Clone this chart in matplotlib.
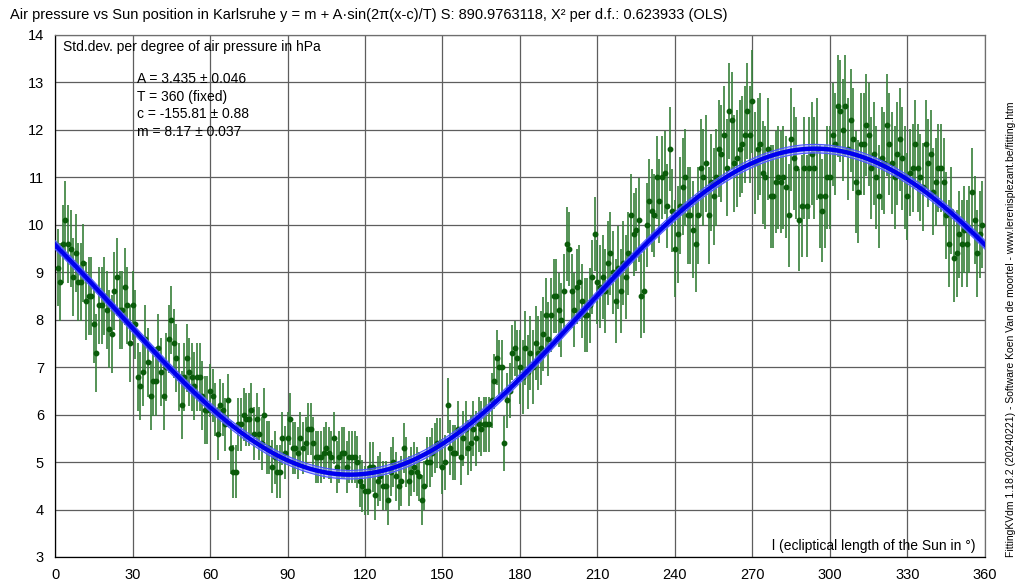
import numpy as np
import matplotlib
matplotlib.use("Agg")
from matplotlib import pyplot as plt

plt.rcParams['font.family'] = ['Liberation Sans', 'DejaVu Sans']

# degree of ecliptical length 0..359, std.dev. of air pressure (hPa)
deg = np.arange(360)
std_0_59 = [9.6, 9.1, 8.8, 9.6, 10.1, 9.6, 9.5, 8.9, 9.4, 8.8, 8.8, 9.2, 8.4, 8.5, 8.5,
            7.9, 7.3, 8.3, 8.3, 8.5, 8.2, 7.8, 7.7, 8.6, 8.9, 8.2, 8.2, 8.7, 8.3, 7.5,
            8.3, 7.9, 6.8, 6.6, 6.9, 7.6, 7.1, 6.4, 6.7, 6.7, 7.4, 6.9, 6.4, 7.0, 7.6,
            8.0, 7.5, 7.2, 6.8, 6.2, 6.8, 7.2, 6.9, 6.8, 6.6, 6.8, 6.8, 6.4, 6.1, 6.1]
std_60_119 = [6.5, 6.4, 6.1, 5.6, 6.2, 6.1, 5.8, 6.3, 5.3, 4.8, 4.8, 5.8, 5.8, 6.0, 5.9,
              5.9, 6.1, 5.6, 5.9, 5.6, 5.4, 6.0, 5.3, 5.3, 4.9, 5.1, 4.8, 4.8, 5.5, 5.2,
              5.5, 5.9, 5.3, 5.3, 5.2, 5.5, 5.3, 5.4, 5.7, 5.7, 5.4, 5.1, 5.1, 5.1, 5.2,
              5.3, 5.2, 5.1, 5.5, 4.9, 5.1, 5.2, 5.2, 4.9, 5.1, 5.1, 5.1, 5.0, 4.6, 4.5]
std_120_179 = [4.4, 4.4, 4.9, 4.9, 4.3, 4.6, 4.7, 4.5, 4.5, 4.2, 4.8, 5.0, 4.7, 4.5, 4.6,
               5.3, 5.0, 4.6, 4.8, 4.9, 4.8, 4.7, 4.2, 4.5, 5.0, 5.0, 5.2, 5.3, 5.4, 5.4,
               4.9, 5.0, 6.2, 5.3, 5.2, 5.2, 5.7, 5.1, 5.5, 5.7, 5.3, 5.4, 5.7, 5.5, 5.8,
               5.7, 5.8, 5.8, 5.8, 6.3, 6.7, 7.2, 7.0, 7.0, 5.4, 6.3, 6.5, 7.3, 7.4, 7.2]
std_180_239 = [7.0, 6.8, 7.4, 6.9, 7.3, 7.0, 7.5, 7.3, 7.4, 7.7, 8.1, 7.6, 8.1, 8.5, 8.5,
               8.2, 8.0, 8.6, 9.6, 9.5, 8.6, 8.2, 8.7, 8.8, 8.4, 8.1, 8.1, 8.3, 8.9, 9.8,
               8.8, 8.7, 8.9, 8.6, 9.2, 9.4, 9.0, 8.4, 9.1, 8.6, 9.2, 8.9, 9.4, 10.2, 9.8,
               9.9, 10.1, 8.5, 8.6, 10.0, 10.5, 10.3, 10.2, 11.0, 10.5, 11.0, 11.1, 10.4, 11.6, 10.3]
std_240_299 = [9.5, 9.8, 10.4, 10.8, 11.0, 10.2, 10.2, 9.9, 9.6, 10.2, 11.2, 11.0, 11.3, 10.2, 10.9,
               10.6, 11.0, 11.6, 11.5, 11.9, 11.2, 12.4, 12.2, 11.3, 11.4, 11.6, 11.7, 11.9, 12.4, 11.9,
               12.6, 11.3, 11.6, 11.7, 11.1, 11.0, 11.6, 10.6, 10.6, 10.9, 11.0, 10.9, 11.0, 10.8, 10.2,
               11.8, 11.4, 11.2, 10.1, 10.4, 11.2, 10.4, 11.2, 11.5, 11.2, 11.6, 10.6, 10.3, 10.6, 11.0]
std_300_359 = [11.0, 11.9, 11.7, 12.5, 12.4, 12.0, 12.5, 11.6, 12.2, 11.8, 10.9, 10.7, 11.7, 11.7, 12.1,
               11.9, 11.2, 11.5, 11.0, 10.6, 11.4, 11.3, 12.1, 11.7, 11.3, 11.0, 11.5, 11.8, 11.4, 11.0,
               10.6, 11.1, 11.2, 11.7, 11.2, 11.0, 10.8, 11.7, 11.3, 11.5, 10.7, 10.9, 11.2, 11.2, 10.9,
               10.2, 9.6, 10.3, 9.3, 9.4, 9.8, 9.6, 9.9, 9.6, 9.9, 10.7, 10.1, 9.4, 9.8, 10.0]
std_dev = np.array(std_0_59 + std_60_119 + std_120_179 + std_180_239 + std_240_299 + std_300_359)

# error bar half-lengths, one per 30 degree block
err_blocks = [0.82, 0.72, 0.56, 0.55, 0.52, 0.58, 0.78, 0.88, 1.02, 1.08, 1.08, 0.92]
std_err = np.repeat(err_blocks, 30)

# fit parameters as printed on the chart
A, T, c, m = 3.435, 360.0, -155.81, 8.17

fig = plt.figure(figsize=(10.19, 5.84), dpi=100)
ax = fig.add_axes([55 / 1019, 1 - 557 / 584, 930 / 1019, 522 / 584])

ax.errorbar(deg, std_dev, yerr=std_err, fmt='none', ecolor='#37803a', elinewidth=1.2, zorder=2)
ax.plot(deg, std_dev, 'o', color='#0a5c0a', markersize=3.2, zorder=3)

x = np.linspace(0, 360, 721)
y = m + A * np.sin(2 * np.pi * (x - c) / T)
ax.fill_between(x, y - 0.09, y + 0.09, color='#9aa0ff', alpha=0.6, zorder=4, lw=0)
ax.plot(x, y + 0.09, color='#4b55ff', lw=0.8, zorder=4)
ax.plot(x, y - 0.09, color='#4b55ff', lw=0.8, zorder=4)
ax.plot(x, y, color='#0000ee', lw=3.2, zorder=5)

ax.set_xlim(0, 360)
ax.set_ylim(3, 14)
ax.set_xticks(np.arange(0, 361, 30))
ax.set_yticks(np.arange(3, 15, 1))
ax.tick_params(length=0, labelsize=10.5, pad=8)
ax.grid(color='#5e5e5e', lw=0.9)
ax.set_axisbelow(True)
for s in ax.spines.values():
    s.set_color('#6e6e6e')
    s.set_linewidth(0.9)
ax.spines['left'].set_color('black')
ax.spines['bottom'].set_color('black')

fig.text(10 / 1019, 1 - 15 / 584,
         'Air pressure vs Sun position in Karlsruhe y = m + A\u00b7sin(2\u03c0(x-c)/T) S: 890.9763118, '
         'X\u00b2 per d.f.: 0.623933 (OLS)', fontsize=10.5, va='center', ha='left')
fig.text(63 / 1019, 1 - 47 / 584, 'Std.dev. per degree of air pressure in hPa',
         fontsize=10, va='center', ha='left')
params = ['A = 3.435 \u00b1 0.046', 'T = 360 (fixed)', 'c = -155.81 \u00b1 0.88', 'm = 8.17 \u00b1 0.037']
for i, p in enumerate(params):
    fig.text(137 / 1019, 1 - (79 + 17.7 * i) / 584, p, fontsize=10, va='center', ha='left')
fig.text(975 / 1019, 1 - 546 / 584, 'l (ecliptical length of the Sun in \u00b0)',
         fontsize=10, va='center', ha='right')
fig.text(1011 / 1019, 1 - 557 / 584,
         'FittingKVdm 1.18.2 (20240221) - Software Koen Van de moortel - www.lerenisplezant.be/fitting.htm',
         fontsize=7.5, rotation=90, va='bottom', ha='center')

fig.savefig('out.png', dpi=100)
